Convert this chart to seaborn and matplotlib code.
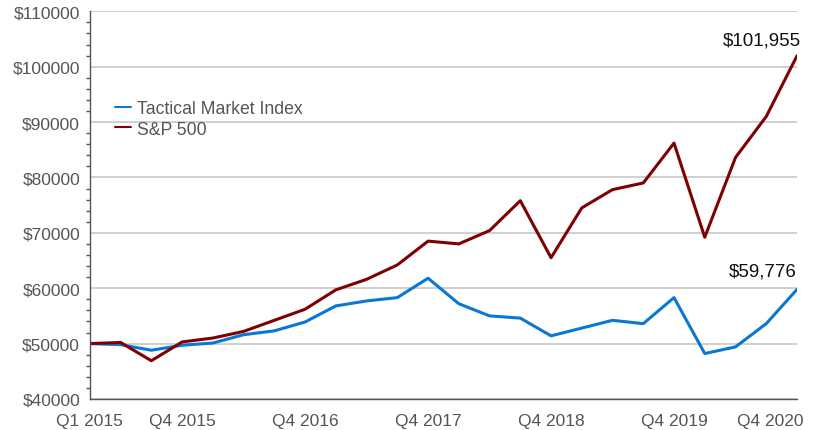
import numpy as np
import pandas as pd
import matplotlib
matplotlib.use("Agg")
import matplotlib.pyplot as plt
import matplotlib.transforms as mtransforms
import seaborn as sns
from matplotlib.ticker import MultipleLocator, FuncFormatter


# Data
quarters = [
    "Q1 2015", "Q2 2015", "Q3 2015", "Q4 2015",
    "Q1 2016", "Q2 2016", "Q3 2016", "Q4 2016",
    "Q1 2017", "Q2 2017", "Q3 2017", "Q4 2017",
    "Q1 2018", "Q2 2018", "Q3 2018", "Q4 2018",
    "Q1 2019", "Q2 2019", "Q3 2019", "Q4 2019",
    "Q1 2020", "Q2 2020", "Q3 2020", "Q4 2020",
]

tactical = [
    50000, 49800, 48800, 49700,
    50100, 51600, 52300, 53900,
    56800, 57700, 58300, 61800,
    57200, 55000, 54600, 51400,
    52800, 54200, 53600, 58300,
    48200, 49400, 53600, 59776,
]

sp500 = [
    50000, 50200, 46900, 50300,
    51000, 52200, 54200, 56200,
    59700, 61600, 64200, 68500,
    68000, 70400, 75800, 65500,
    74500, 77800, 79000, 86200,
    69200, 83600, 91000, 101955,
]

tick_labels = ["Q1 2015", "Q4 2015", "Q4 2016", "Q4 2017",
               "Q4 2018", "Q4 2019", "Q4 2020"]

series_names = ["Tactical Market Index", "S&P 500"]
colors = ["#0a78d2", "#7f0000"]


df = pd.DataFrame({
    "idx": list(range(len(quarters))) * 2,
    "value": tactical + sp500,
    "series": [series_names[0]] * len(quarters) + [series_names[1]] * len(quarters),
})


sns.set_style("white")
plt.rcParams["font.family"] = ["Liberation Sans", "DejaVu Sans"]

fig = plt.figure(figsize=(8.17, 4.31), dpi=100)
ax = fig.add_axes([0.110, 0.072, 0.8655, 0.8995])

sns.lineplot(
    data=df,
    x="idx",
    y="value",
    hue="series",
    hue_order=series_names,
    palette=colors,
    linewidth=2.2,
    ax=ax
)

ax.set_xlim(0, len(quarters) - 1)
ax.set_ylim(40000, 110000)

ax.set_xticks([quarters.index(t) for t in tick_labels])
ax.set_xticklabels(tick_labels)

ax.yaxis.set_major_locator(MultipleLocator(10000))
ax.yaxis.set_minor_locator(MultipleLocator(2000))
ax.yaxis.set_major_formatter(FuncFormatter(lambda v, p: f"${v:.0f}"))

ax.grid(axis="y", which="major", color="#cccccc", linewidth=1.3)
ax.set_axisbelow(True)

for side in ["top", "right"]:
    ax.spines[side].set_visible(False)
for side in ["left", "bottom"]:
    ax.spines[side].set_color("#555555")
    ax.spines[side].set_linewidth(1.0)

ax.tick_params(axis="y", which="major", length=5, width=1, color="#555555",
               labelsize=12.5, labelcolor="#555555", pad=2)
ax.tick_params(axis="y", which="minor", length=3, width=1, color="#555555", left=True)
ax.tick_params(axis="x", which="major", length=7, width=1, color="#555555",
               labelsize=12.5, labelcolor="#555555", pad=3)

# last quarter label is pulled in so it fits the figure
last = ax.get_xticklabels()[-1]
last.set_horizontalalignment("right")
last.set_transform(last.get_transform() +
                   mtransforms.ScaledTranslation(7 / 100, 0, fig.dpi_scale_trans))

ax.set_xlabel("")
ax.set_ylabel("")

# Labels for the final values
ax.annotate(f"${sp500[-1]:,}", xy=(len(quarters) - 1, sp500[-1]),
            xytext=(3, 5), textcoords="offset points",
            ha="right", va="bottom", fontsize=13.5, color="#111111")
ax.annotate(f"${tactical[-1]:,}", xy=(len(quarters) - 1, tactical[-1]),
            xytext=(0, 7), textcoords="offset points",
            ha="right", va="bottom", fontsize=13.5, color="#111111")

leg = ax.legend(
    loc="upper left",
    bbox_to_anchor=(0.026, 0.79),
    frameon=False,
    fontsize=12.7,
    handlelength=0.9,
    handletextpad=0.35,
    labelspacing=0.22,
    borderaxespad=0
)
for line in leg.get_lines():
    line.set_linewidth(1.5)
for text in leg.get_texts():
    text.set_color("#555555")

plt.savefig("out.png", dpi=100)
plt.close()
